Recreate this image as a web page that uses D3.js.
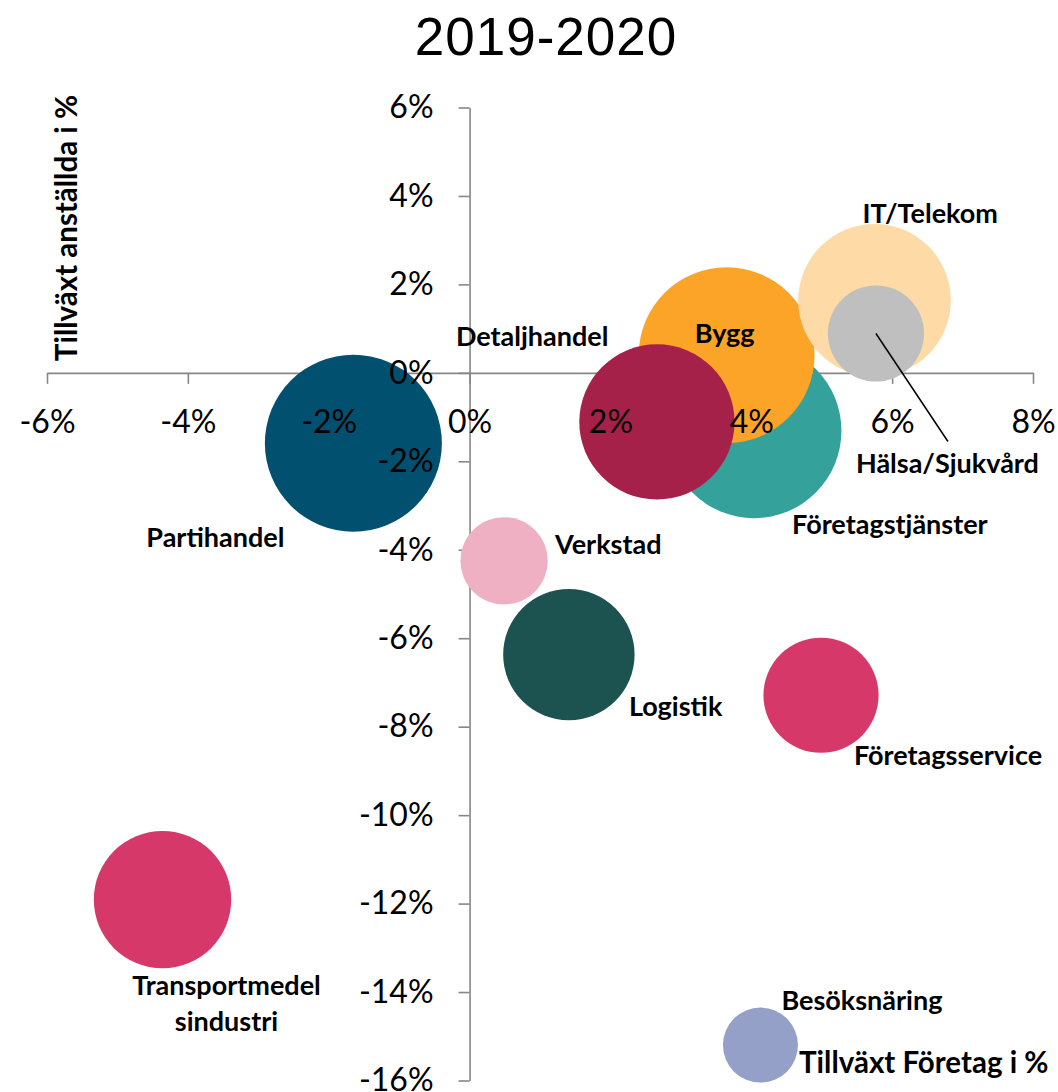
<!DOCTYPE html>
<html>
<head>
<meta charset="utf-8">
<script src="https://cdn.jsdelivr.net/npm/d3@7/dist/d3.min.js"></script>
<style>
  html, body { margin: 0; padding: 0; background: #fff; }
  svg { display: block; }
</style>
</head>
<body>
<svg id="chart" width="1058" height="1092"></svg>
<script>
// Sector growth 2019-2020: companies (x) vs employees (y), bubble = sector size
const sectors = ["Partihandel", "Företagstjänster", "Bygg", "Detaljhandel", "IT/Telekom",
  "Hälsa/Sjukvård", "Verkstad", "Logistik", "Företagsservice", "Transportmedelsindustri", "Besöksnäring"];
const sectorLabels = ["Partihandel", "Företagstjänster", "Bygg", "Detaljhandel", "IT/Telekom",
  "Hälsa/Sjukvård", "Verkstad", "Logistik", "Företagsservice", "Transportmedel\nsindustri", "Besöksnäring"];
const growthCompanies = [-1.65, 4.04, 3.65, 2.66, 5.75, 5.77, 0.49, 1.41, 4.99, -4.36, 4.13];
const growthEmployees = [-1.59, -1.31, 0.40, -1.11, 1.64, 0.89, -4.25, -6.37, -7.29, -11.91, -15.20];
const sectorSize = [78, 76, 77, 60, 58, 23, 19, 43, 33, 47, 14];
const xTickValues = [-6, -4, -2, 0, 2, 4, 6, 8];
const yTickValues = [6, 4, 2, 0, -2, -4, -6, -8, -10, -12, -14, -16];

const colors = ["#02506F", "#34A19B", "#FBA428", "#A6214A", "#FDDAA6",
  "#BFBFBF", "#EFB0C3", "#1C5250", "#D7386A", "#D7386A", "#94A0C8"];

// label placement relative to bubble centre (px)
const labelLayout = {
  "Partihandel":             { dx: -207, dy: 104, anchor: "start" },
  "Företagstjänster":        { dx: 38,   dy: 103, anchor: "start" },
  "Bygg":                    { dx: -2,   dy: -12, anchor: "middle" },
  "Detaljhandel":            { dx: -201, dy: -76, anchor: "start" },
  "IT/Telekom":              { dx: -12,  dy: -77, anchor: "start" },
  "Hälsa/Sjukvård":          { dx: -20,  dy: 139, anchor: "start", leader: [72, 108] },
  "Verkstad":                { dx: 51,   dy: -7,  anchor: "start" },
  "Logistik":                { dx: 60,   dy: 61,  anchor: "start" },
  "Företagsservice":         { dx: 33,   dy: 70,  anchor: "start" },
  "Transportmedelsindustri": { dx: 64,   dy: 95,  anchor: "middle" },
  "Besöksnäring":            { dx: 21,   dy: -35, anchor: "start" }
};

const data = sectors.map((s, i) => ({
  name: s, label: sectorLabels[i], x: growthCompanies[i], y: growthEmployees[i],
  size: sectorSize[i], color: colors[i]
}));

const svg = d3.select("#chart");
const x = d3.scaleLinear().domain([-6, 8]).range([47, 1033]);
const y = d3.scaleLinear().domain([-16, 6]).range([1080.5, 107.5]);
const r = d3.scaleSqrt().domain([0, d3.max(sectorSize)]).range([0, 88.5]);

const axisColor = "#878787";
const textFont = "Lato, 'Open Sans', sans-serif";

const xAxis = d3.axisBottom(x).tickValues(xTickValues).tickSize(11).tickSizeOuter(0)
  .tickPadding(26).tickFormat(d => d + "%");
const yAxis = d3.axisLeft(y).tickValues(yTickValues).tickSize(11).tickSizeOuter(0)
  .tickPadding(25).tickFormat(d => d + "%");

// axis lines (under bubbles)
const axisLines = svg.append("g");
const gxl = axisLines.append("g").attr("transform", `translate(0,${y(0)})`).call(xAxis);
const gyl = axisLines.append("g").attr("transform", `translate(${x(0)},0)`).call(yAxis);
[gxl, gyl].forEach(g => {
  g.selectAll("text").remove();
  g.select(".domain").attr("stroke", axisColor).attr("stroke-width", 1.6);
  g.selectAll(".tick line").attr("stroke", axisColor).attr("stroke-width", 1.6);
});

// bubbles
svg.append("g").selectAll("circle").data(data).join("circle")
  .attr("cx", d => x(d.x)).attr("cy", d => y(d.y)).attr("r", d => r(d.size))
  .attr("fill", d => d.color);

// tick labels (above bubbles)
const axisText = svg.append("g");
const gxt = axisText.append("g").attr("transform", `translate(0,${y(0)})`).call(xAxis);
const gyt = axisText.append("g").attr("transform", `translate(${x(0)},0)`).call(yAxis);
[gxt, gyt].forEach(g => {
  g.select(".domain").remove();
  g.selectAll(".tick line").remove();
  g.selectAll("text").attr("font-family", textFont).attr("font-size", 32).attr("fill", "#000");
});

// leader line
const leaderG = svg.append("g");
data.filter(d => labelLayout[d.name].leader).forEach(d => {
  const L = labelLayout[d.name].leader;
  leaderG.append("line")
    .attr("x1", x(d.x)).attr("y1", y(d.y))
    .attr("x2", x(d.x) + L[0]).attr("y2", y(d.y) + L[1])
    .attr("stroke", "#000").attr("stroke-width", 1.5);
});

// data labels
const labelG = svg.append("g").attr("font-family", textFont).attr("font-weight", 700)
  .attr("font-size", 27).attr("fill", "#000");
data.forEach(d => {
  const lay = labelLayout[d.name];
  const t = labelG.append("text")
    .attr("x", x(d.x) + lay.dx).attr("y", y(d.y) + lay.dy)
    .attr("text-anchor", lay.anchor);
  d.label.split("\n").forEach((line, i) => {
    t.append("tspan").attr("x", x(d.x) + lay.dx).attr("dy", i === 0 ? 0 : 36).text(line);
  });
});

// title
svg.append("text").attr("x", 546).attr("y", 55).attr("text-anchor", "middle")
  .attr("font-family", "'Liberation Sans', Arial, sans-serif").attr("font-size", 53)
  .attr("letter-spacing", 1).attr("fill", "#000").text("2019-2020");

// axis titles
svg.append("text").attr("transform", "translate(77,228) rotate(-90)")
  .attr("text-anchor", "middle").attr("font-family", textFont).attr("font-weight", 700)
  .attr("font-size", 29.5).attr("fill", "#000").text("Tillväxt anställda i %");
svg.append("text").attr("x", 799).attr("y", 1073)
  .attr("font-family", textFont).attr("font-weight", 700)
  .attr("font-size", 29.5).attr("fill", "#000").text("Tillväxt Företag i %");
</script>
</body>
</html>
